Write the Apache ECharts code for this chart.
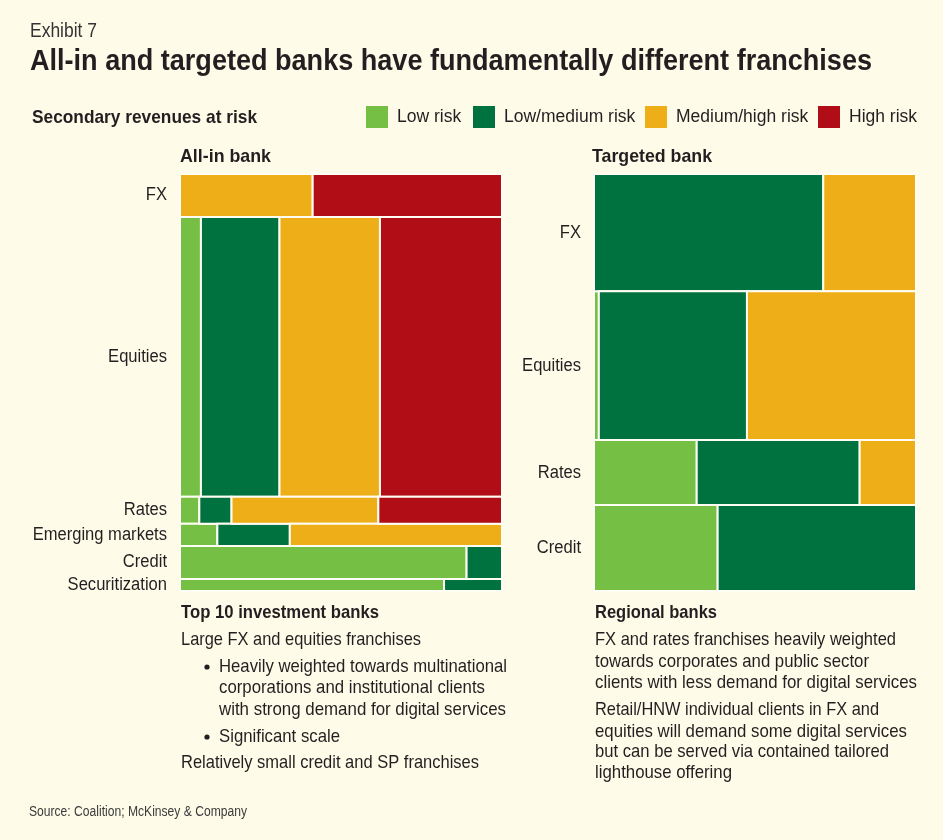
<!DOCTYPE html>
<html>
<head>
<meta charset="utf-8">
<script src="https://cdn.jsdelivr.net/npm/echarts@6/dist/echarts.min.js"></script>
<style>
html,body{margin:0;padding:0;background:#fefbe9;}
#chart{width:943px;height:840px;}
</style>
</head>
<body>
<div id="chart"></div>
<script>
// ---------- Data ----------
const riskLevels = ['Low risk', 'Low/medium risk', 'Medium/high risk', 'High risk'];

// All-in bank: row share of secondary revenues (%) and risk split within each row (%)
const allInCategories = ['FX', 'Equities', 'Rates', 'Emerging markets', 'Credit', 'Securitization'];
const allInRowShare   = [10.3, 67.1, 6.5, 5.3, 7.9, 2.9];
const allInLow        = [0, 6.5, 6.0, 11.6, 89.0, 82.0];
const allInLowMed     = [0, 24.4, 10.0, 22.5, 11.0, 18.0];
const allInMedHigh    = [41.2, 31.2, 45.6, 65.9, 0, 0];
const allInHigh       = [58.8, 37.9, 38.4, 0, 0, 0];

// Targeted bank
const targetedCategories = ['FX', 'Equities', 'Rates', 'Credit'];
const targetedRowShare   = [28.1, 35.7, 15.6, 20.6];
const targetedLow        = [0, 1.5, 31.9, 38.4];
const targetedLowMed     = [71.2, 46.0, 50.6, 61.6];
const targetedMedHigh    = [28.8, 52.5, 17.5, 0];
const targetedHigh       = [0, 0, 0, 0];

// ---------- Style ----------
const riskColors = ['#75bf44', '#00723f', '#eeae17', '#b10d17'];
const FONT = "'Liberation Sans', Arial, Helvetica, sans-serif";
const TXT = '#231f20';
const BG = '#fefbe9';
const LABEL_SCALE = 0.92;

const measureCtx = document.createElement('canvas').getContext('2d');
function fitText(x, y, text, size, weight, targetWidth, color) {
  const font = (weight || 'normal') + ' ' + size + 'px ' + FONT;
  measureCtx.font = font;
  const w = measureCtx.measureText(text).width;
  return {
    type: 'text', x: x, y: y, scaleX: targetWidth ? targetWidth / w : 1,
    style: { text: text, font: font, fill: color || TXT, verticalAlign: 'middle', align: 'left' }
  };
}
function bullet(x, y) {
  return { type: 'circle', shape: { cx: x, cy: y, r: 2.6 }, style: { fill: TXT } };
}

function buildSegments(rowShare, splits) {
  const out = splits.map(() => []);
  let yAcc = 0;
  rowShare.forEach((h, i) => {
    let xAcc = 0;
    splits.forEach((arr, r) => {
      const w = arr[i];
      if (w > 0) out[r].push([xAcc, xAcc + w, yAcc, yAcc + h]);
      xAcc += w;
    });
    yAcc += h;
  });
  return out;
}
function buildLabels(cats, rowShare) {
  const d = [];
  let yAcc = 0;
  cats.forEach((c, i) => { d.push([0, yAcc + rowShare[i] / 2, c]); yAcc += rowShare[i]; });
  return d;
}

function renderSeg(params, api) {
  const p0 = api.coord([api.value(0), api.value(2)]);
  const p1 = api.coord([api.value(1), api.value(3)]);
  return {
    type: 'rect',
    shape: { x: p0[0], y: p0[1], width: p1[0] - p0[0], height: p1[1] - p0[1] },
    style: { fill: api.visual('color'), stroke: '#fffdf4', lineWidth: 2 }
  };
}
const labelText = {};
function renderLabel(params, api) {
  const p = api.coord([api.value(0), api.value(1)]);
  return {
    type: 'text',
    x: p[0] - 13, y: p[1], scaleX: LABEL_SCALE,
    style: { text: labelText[params.seriesIndex][params.dataIndex], align: 'right', verticalAlign: 'middle',
      font: '18px ' + FONT, fill: TXT }
  };
}

const allSegs = buildSegments(allInRowShare, [allInLow, allInLowMed, allInMedHigh, allInHigh]);
const tgtSegs = buildSegments(targetedRowShare, [targetedLow, targetedLowMed, targetedMedHigh, targetedHigh]);
const allLabels = buildLabels(allInCategories, allInRowShare);
const tgtLabels = buildLabels(targetedCategories, targetedRowShare);

const series = [];
[allSegs, tgtSegs].forEach((segs, g) => {
  segs.forEach((data, r) => {
    series.push({
      type: 'custom', name: riskLevels[r], xAxisIndex: g, yAxisIndex: g,
      itemStyle: { color: riskColors[r] }, renderItem: renderSeg, data: data, silent: true
    });
  });
});
[allLabels, tgtLabels].forEach((data, g) => {
  labelText[series.length] = data.map(d => d[2]);
  series.push({
    type: 'custom', name: 'labels' + g, xAxisIndex: g, yAxisIndex: g,
    renderItem: renderLabel, data: data.map(d => [d[0], d[1]]), silent: true
  });
});

const legendLeft = [366, 473, 645, 818];
const legends = riskLevels.map((name, i) => ({
  data: [name], left: legendLeft[i], top: 106, padding: 0, icon: 'rect',
  itemWidth: 22, itemHeight: 22, selectedMode: false,
  textStyle: { fontFamily: FONT, fontSize: 17.5, color: TXT, padding: [2, 0, 0, 4] }
}));

const chart = echarts.init(document.getElementById('chart'), null, { renderer: 'canvas' });

const B = 18.5; // body font size
chart.setOption({
  backgroundColor: BG,
  animation: false,
  grid: [
    { left: 180, top: 174, width: 322, height: 417 },
    { left: 594, top: 174, width: 322, height: 417 }
  ],
  xAxis: [
    { gridIndex: 0, type: 'value', min: 0, max: 100, show: false },
    { gridIndex: 1, type: 'value', min: 0, max: 100, show: false }
  ],
  yAxis: [
    { gridIndex: 0, type: 'value', min: 0, max: 100, inverse: true, show: false },
    { gridIndex: 1, type: 'value', min: 0, max: 100, inverse: true, show: false }
  ],
  legend: legends,
  graphic: [
    fitText(30, 31, 'Exhibit 7', 20, 'normal', 67, '#333'),
    fitText(30, 62, 'All-in and targeted banks have fundamentally different franchises', 30, 'bold', 842),
    fitText(32, 118, 'Secondary revenues at risk', 19, 'bold', 225),
    fitText(180, 157, 'All-in bank', 19, 'bold', 91),
    fitText(592, 157, 'Targeted bank', 19, 'bold', 120),

    fitText(181, 613, 'Top 10 investment banks', B, 'bold', 198),
    fitText(181, 640, 'Large FX and equities franchises', B, 'normal', 240),
    bullet(207, 667),
    fitText(219, 667, 'Heavily weighted towards multinational', B, 'normal', 288),
    fitText(219, 688, 'corporations and institutional clients', B, 'normal', 266),
    fitText(219, 710, 'with strong demand for digital services', B, 'normal', 287),
    bullet(207, 737),
    fitText(219, 737, 'Significant scale', B, 'normal', 121),
    fitText(181, 763, 'Relatively small credit and SP franchises', B, 'normal', 298),

    fitText(595, 613, 'Regional banks', B, 'bold', 122),
    fitText(595, 640, 'FX and rates franchises heavily weighted', B, 'normal', 301),
    fitText(595, 662, 'towards corporates and public sector', B, 'normal', 274),
    fitText(595, 683, 'clients with less demand for digital services', B, 'normal', 322),
    fitText(595, 710, 'Retail/HNW individual clients in FX and', B, 'normal', 284),
    fitText(595, 732, 'equities will demand some digital services', B, 'normal', 312),
    fitText(595, 752, 'but can be served via contained tailored', B, 'normal', 294),
    fitText(595, 773, 'lighthouse offering', B, 'normal', 137),

    fitText(29, 812, 'Source: Coalition; McKinsey & Company', 14, 'normal', 218, '#3a3a3a')
  ],
  series: series
});
</script>
</body>
</html>
